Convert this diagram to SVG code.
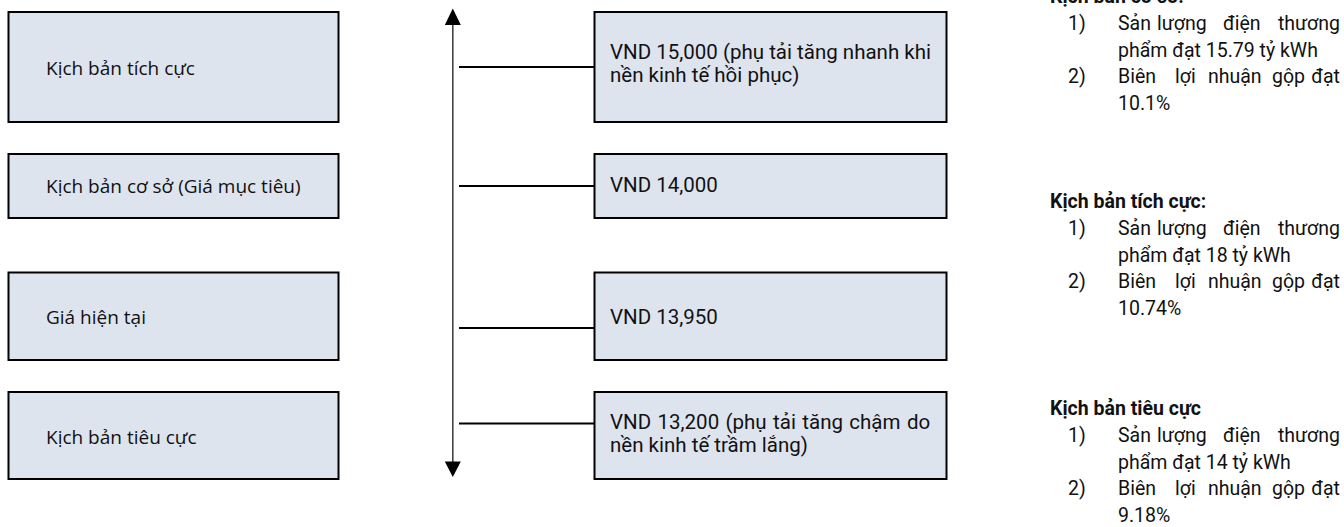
<svg xmlns="http://www.w3.org/2000/svg" width="1344" height="527" viewBox="0 0 1344 527">
<style>
.box{fill:#dee4ee;stroke:#000;stroke-width:2}
.lt{font-family:"Open Sans","Noto Sans",sans-serif;font-size:19px;fill:#111}
.mt{font-family:Roboto,"Noto Sans",sans-serif;font-size:20.5px;fill:#111}
.rt{font-family:Roboto,"Noto Sans",sans-serif;font-size:19.5px;fill:#111}
.rh{font-family:Roboto,"Noto Sans",sans-serif;font-size:19.5px;font-weight:bold;fill:#111}
.e{text-anchor:end}
.conn{stroke:#000;stroke-width:2;fill:none}
</style>
<rect width="1344" height="527" fill="#fff"/>
<g id="left-positive"><rect class="box" x="8.5" y="12" width="330" height="110"/><text class="lt" x="46" y="75">Kịch bản tích cực</text></g>
<g id="left-base"><rect class="box" x="8.5" y="154" width="330" height="64"/><text class="lt" x="46" y="193">Kịch bản cơ sở (Giá mục tiêu)</text></g>
<g id="left-current"><rect class="box" x="8.5" y="272.5" width="330" height="87.5"/><text class="lt" x="46" y="324">Giá hiện tại</text></g>
<g id="left-negative"><rect class="box" x="8.5" y="392" width="330" height="87"/><text class="lt" x="46" y="444">Kịch bản tiêu cực</text></g>

<g id="price-15000"><rect class="box" x="594.5" y="12" width="352" height="110"/><text class="mt" x="610" y="59">VND 15,000 (phụ tải tăng nhanh khi</text><text class="mt" x="610" y="82">nền kinh tế hồi phục)</text></g>
<g id="price-14000"><rect class="box" x="594.5" y="154" width="352" height="64"/><text class="mt" x="610" y="192">VND 14,000</text></g>
<g id="price-13950"><rect class="box" x="594.5" y="272.5" width="352" height="87.5"/><text class="mt" x="610" y="324">VND 13,950</text></g>
<g id="price-13200"><rect class="box" x="594.5" y="392" width="352" height="87"/><text class="mt" x="610" y="429" word-spacing="1.3">VND 13,200 (phụ tải tăng chậm do</text><text class="mt" x="610" y="452">nền kinh tế trầm lắng)</text></g>

<g id="connectors">
<line x1="452.8" y1="24" x2="452.8" y2="463" stroke="#444" stroke-width="1.6"/>
<polygon points="452.8,8.5 444.8,25 460.8,25" fill="#000"/>
<polygon points="452.8,477 444.8,461.5 460.8,461.5" fill="#000"/>
<line class="conn" x1="459" y1="67" x2="594" y2="67"/>
<line class="conn" x1="459" y1="186" x2="594" y2="186"/>
<line class="conn" x1="459" y1="328" x2="594" y2="328"/>
<line class="conn" x1="459" y1="423.5" x2="594" y2="423.5"/>
</g>

<g id="notes">
<text class="rh" x="1050" y="3">Kịch bản cơ sở:</text>
<text class="rt" x="1068" y="30">1)</text>
<text class="rt" y="30"><tspan x="1118">Sản</tspan><tspan x="1157">lượng</tspan><tspan x="1223">điện</tspan><tspan class="e" x="1340">thương</tspan></text>
<text class="rt" x="1118" y="56.5">phẩm đạt 15.79 tỷ kWh</text>
<text class="rt" x="1068" y="83">2)</text>
<text class="rt" y="83"><tspan x="1118">Biên</tspan><tspan x="1175">lợi</tspan><tspan x="1208">nhuận</tspan><tspan x="1272">gộp</tspan><tspan class="e" x="1340">đạt</tspan></text>
<text class="rt" x="1118" y="109.5">10.1%</text>

<text class="rh" x="1050" y="208">Kịch bản tích cực:</text>
<text class="rt" x="1068" y="235">1)</text>
<text class="rt" y="235"><tspan x="1118">Sản</tspan><tspan x="1157">lượng</tspan><tspan x="1223">điện</tspan><tspan class="e" x="1340">thương</tspan></text>
<text class="rt" x="1118" y="261.5">phẩm đạt 18 tỷ kWh</text>
<text class="rt" x="1068" y="288">2)</text>
<text class="rt" y="288"><tspan x="1118">Biên</tspan><tspan x="1175">lợi</tspan><tspan x="1208">nhuận</tspan><tspan x="1272">gộp</tspan><tspan class="e" x="1340">đạt</tspan></text>
<text class="rt" x="1118" y="314.5">10.74%</text>

<text class="rh" x="1050" y="415">Kịch bản tiêu cực</text>
<text class="rt" x="1068" y="442">1)</text>
<text class="rt" y="442"><tspan x="1118">Sản</tspan><tspan x="1157">lượng</tspan><tspan x="1223">điện</tspan><tspan class="e" x="1340">thương</tspan></text>
<text class="rt" x="1118" y="468.5">phẩm đạt 14 tỷ kWh</text>
<text class="rt" x="1068" y="495">2)</text>
<text class="rt" y="495"><tspan x="1118">Biên</tspan><tspan x="1175">lợi</tspan><tspan x="1208">nhuận</tspan><tspan x="1272">gộp</tspan><tspan class="e" x="1340">đạt</tspan></text>
<text class="rt" x="1118" y="521.5">9.18%</text>
</g>
</svg>
